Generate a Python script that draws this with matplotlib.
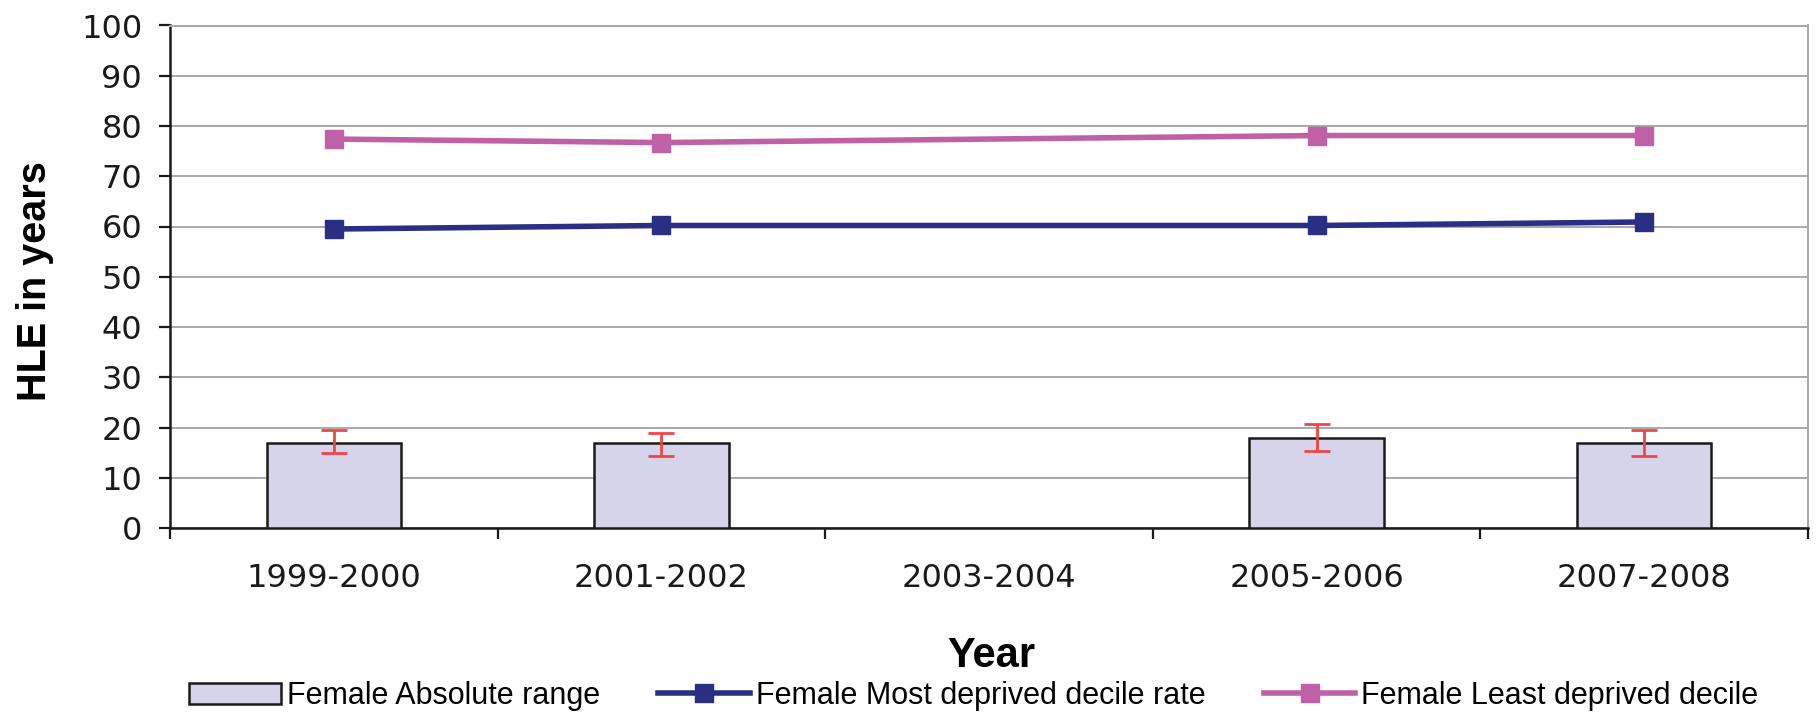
import numpy as np
import matplotlib
matplotlib.use("Agg")
import matplotlib.pyplot as plt

periods = ["1999-2000", "2001-2002", "2003-2004", "2005-2006", "2007-2008"]
# absolute range bars (None = no data for that period)
abs_range = [16.9, 16.9, None, 18.0, 16.9]
range_err_low = [2.0, 2.5, None, 2.6, 2.6]
range_err_high = [2.6, 2.1, None, 2.6, 2.6]
most_deprived = [59.5, 60.2, None, 60.2, 60.9]
least_deprived = [77.4, 76.7, None, 78.1, 78.1]
y_ticks = list(range(0, 101, 10))

BAR_FACE = "#D6D4EA"
NAVY = "#2B2F83"
PINK = "#C060A6"
ERR_RED = "#F04545"
GRID = "#A8A8A8"

fig = plt.figure(figsize=(18.17, 7.14), dpi=100)
ax = fig.add_axes([170 / 1817, 1 - 528 / 714, (1808 - 170) / 1817, (528 - 25.5) / 714])

idx = [i for i, v in enumerate(abs_range) if v is not None]
bar_vals = [abs_range[i] for i in idx]
bars = ax.bar(idx, bar_vals, width=0.41, color=BAR_FACE, edgecolor="#1a1a1a",
              linewidth=1.8, zorder=3, label="Female Absolute range")
ax.errorbar(idx, bar_vals,
            yerr=[[range_err_low[i] for i in idx], [range_err_high[i] for i in idx]],
            fmt="none", ecolor=ERR_RED, elinewidth=2.0, capsize=9.5, capthick=2.0, zorder=4)

li = [i for i, v in enumerate(most_deprived) if v is not None]
l1, = ax.plot(li, [most_deprived[i] for i in li], color=NAVY, lw=4, marker="s", ms=13,
              zorder=5, label="Female Most deprived decile rate")
li = [i for i, v in enumerate(least_deprived) if v is not None]
l2, = ax.plot(li, [least_deprived[i] for i in li], color=PINK, lw=4, marker="s", ms=13,
              zorder=5, label="Female Least deprived decile")

ax.set_xlim(-0.5, len(periods) - 0.5)
ax.set_ylim(0, 100)
ax.set_yticks(y_ticks)
ax.set_yticklabels([str(t) for t in y_ticks], fontsize=23, family="DejaVu Sans")
ax.tick_params(axis="y", length=8, width=1.6, pad=12, colors="#1a1a1a", labelcolor="#1a1a1a")

# category labels centred, tick marks on boundaries
ax.set_xticks(range(len(periods)))
ax.set_xticklabels(periods, fontsize=23, family="DejaVu Sans", color="#1a1a1a")
ax.tick_params(axis="x", which="major", length=0, pad=25)
ax.set_xticks(np.arange(-0.5, len(periods), 1.0), minor=True)
ax.tick_params(axis="x", which="minor", length=8, width=1.6, color="#1a1a1a")

ax.yaxis.grid(True, color=GRID, lw=1.4, zorder=0)
ax.set_axisbelow(True)
for side in ("left", "bottom"):
    ax.spines[side].set_color("#1a1a1a")
    ax.spines[side].set_linewidth(1.8)
ax.spines["right"].set_color(GRID)
ax.spines["right"].set_linewidth(1.4)
ax.spines["top"].set_color(GRID)
ax.spines["top"].set_linewidth(1.4)

fig.text(35 / 1817, 1 - 281 / 714, "HLE in years", rotation=90, ha="center", va="center",
         fontsize=28.5, fontweight="bold", family="Liberation Sans")
fig.text(991 / 1817, 1 - 656 / 714, "Year", ha="center", va="center",
         fontsize=30, fontweight="bold", family="Liberation Sans")

fig.legend([bars, l1, l2], [bars.get_label(), l1.get_label(), l2.get_label()],
           loc="center", bbox_to_anchor=(0.536, 1 - 696 / 714), ncol=3,
           frameon=False, prop={"family": "Liberation Sans", "size": 22},
           handlelength=3.0, handletextpad=0.2, columnspacing=1.9, borderaxespad=0)

fig.savefig("out.png", dpi=100)
plt.close(fig)
